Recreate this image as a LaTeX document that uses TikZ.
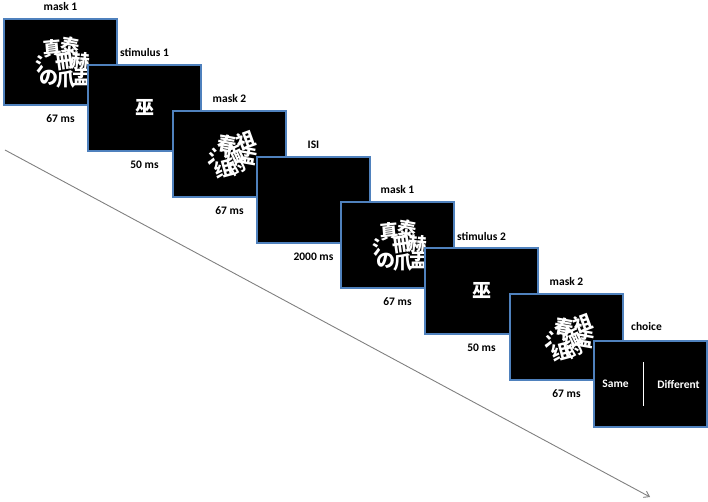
\documentclass[tikz,border=0pt]{standalone}
\usepackage{fontspec}
\usetikzlibrary{arrows.meta,calc}
\setmainfont{Carlito}
\newfontfamily\cjk{Noto Sans CJK SC}
\definecolor{bordblue}{HTML}{4F81BD}
\begin{document}
\begin{tikzpicture}[x=1pt,y=-1pt,
  scr/.style={draw=bordblue, line width=2pt, fill=black, minimum width=113pt, minimum height=86pt, inner sep=0pt, anchor=north west},
  lab/.style={font=\bfseries\fontsize{11.5}{12}\selectfont},
  kj/.style={text=white, font=\cjk\bfseries\fontsize{#1}{#1}\selectfont, inner sep=0pt}]
\useasboundingbox (0,0) rectangle (708,502);
\coordinate (a0) at (5,150);
\coordinate (a1) at (650,497);
\draw[gray, line width=0.9pt, -{Straight Barb[length=5pt,width=7pt]}] (a0) -- (a1);
\newcommand\mymaskA[1]{%
  \node[kj=19, rotate=5] at ($(#1.center)+(-8,-14)$) {真};
  \node[kj=19, rotate=-10] at ($(#1.center)+(10,-16)$) {泰};
  \node[kj=19] at ($(#1.center)+(-16,2)$) {氵};
  \node[kj=19, rotate=8] at ($(#1.center)+(4,0)$) {冊};
  \node[kj=19, rotate=-5] at ($(#1.center)+(20,-1)$) {赫};
  \node[kj=19] at ($(#1.center)+(-12,16)$) {の};
  \node[kj=19] at ($(#1.center)+(5,17)$) {爪};
  \node[kj=19] at ($(#1.center)+(21,15)$) {盂};}
\newcommand\mymaskB[1]{%
  \node[kj=19, rotate=-10] at ($(#1.center)+(-2,-10)$) {春};
  \node[kj=19, rotate=20] at ($(#1.center)+(16,-14)$) {祖};
  \node[kj=19, rotate=-15] at ($(#1.center)+(-12,4)$) {氵};
  \node[kj=19, rotate=25] at ($(#1.center)+(5,2)$) {缅};
  \node[kj=19, rotate=-10] at ($(#1.center)+(19,2)$) {盂};
  \node[kj=19, rotate=15] at ($(#1.center)+(-6,15)$) {组};
  \node[kj=16, rotate=30] at ($(#1.center)+(8,13)$) {的};}
\node[scr] (s1) at (3,18) {};
\node[scr] (s2) at (87,64) {};
\node[scr] (s3) at (172,110) {};
\node[scr] (s4) at (256,156) {};
\node[scr] (s5) at (340,201) {};
\node[scr] (s6) at (424,247) {};
\node[scr] (s7) at (509,293) {};
\node[scr] (s8) at (593,340) {};
\mymaskA{s1}
\node[scr] at (s2.north west) {};
\node[kj=19] at (s2.center) {巫};
\node[scr] at (s3.north west) {};
\mymaskB{s3}
\node[scr] at (s4.north west) {};
\node[scr] at (s5.north west) {};
\mymaskA{s5}
\node[scr] at (s6.north west) {};
\node[kj=19] at (s6.center) {巫};
\node[scr] at (s7.north west) {};
\mymaskB{s7}
\node[scr] at (s8.north west) {};
\node[text=white, lab] (same) at ($(s8.center)+(-35,0)$) {Same};
\node[text=white, lab] (diff) at ($(s8.center)+(28,0)$) {Different};
\draw[white, line width=1.2pt] ($(s8.center)+(-7,-22)$) -- ($(s8.center)+(-7,22)$);
\foreach \s/\t/\d in {s1/mask 1/67 ms, s2/stimulus 1/50 ms, s3/mask 2/67 ms, s4/ISI/2000 ms, s5/mask 1/67 ms, s6/stimulus 2/50 ms, s7/mask 2/67 ms}{
  \node[lab] at ($(\s.north)+(0,-11)$) {\t};
  \node[lab] at ($(\s.south)+(0,13)$) {\d};}
\node[lab] at ($(s8.north)+(-4,-13)$) {choice};
\end{tikzpicture}
\end{document}
